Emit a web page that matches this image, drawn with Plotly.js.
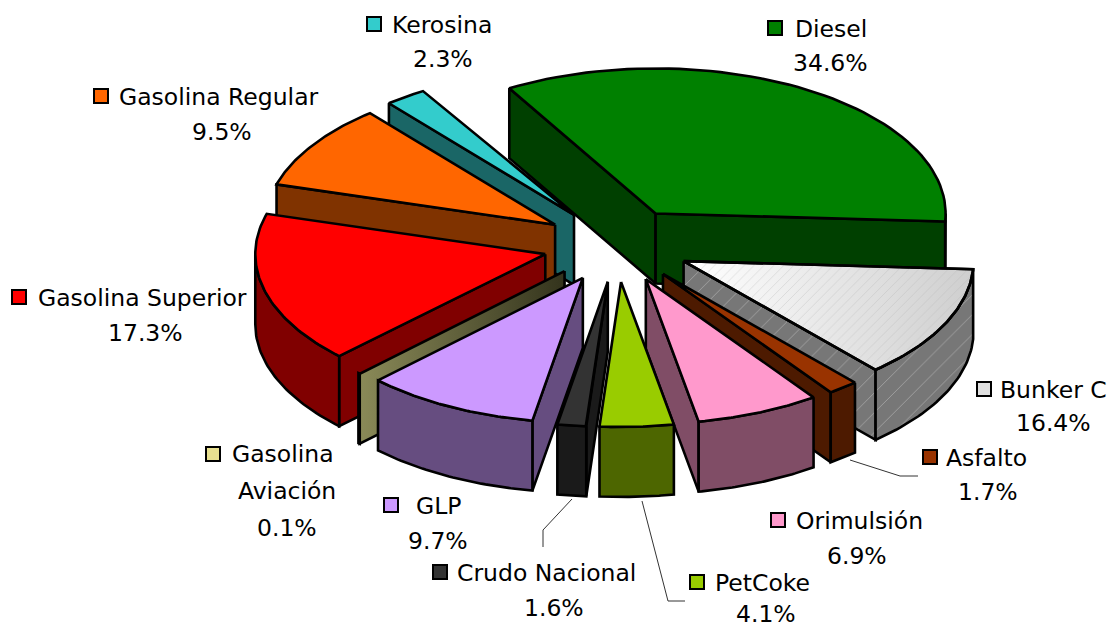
<!DOCTYPE html>
<html>
<head>
<meta charset="utf-8">
<script src="https://cdn.plot.ly/plotly-3.0.1.min.js"></script>
<style>html,body{margin:0;padding:0;background:#fff}#chart{width:1109px;height:628px}</style>
</head>
<body>
<div id="chart"></div>
<script>
// Data, clockwise from the Kerosina/Diesel boundary
const categories = ["Diesel","Bunker C","Asfalto","Orimulsión","PetCoke","Crudo Nacional","GLP","Gasolina Aviación","Gasolina Superior","Gasolina Regular","Kerosina"];
const printedLabels = ["34.6%","16.4%","1.7%","6.9%","4.1%","1.6%","9.7%","0.1%","17.3%","9.5%","2.3%"];
// Slice sizes. Printed labels add up to 104.2%; Bunker C is visibly drawn smaller than its label.
const drawnShares = [34.3,12.6,1.7,6.9,4.1,1.6,9.7,0.1,16.9,9.5,2.3];
const topColors  = ["#008000","#e8e8e8","#993300","#FF99CC","#99CC00","#333333","#CC99FF","#FFFF99","#FF0000","#FF6600","#33CCCC"];
const wallColors = ["#004000","#777777","#4d1a00","#804d66","#4d6600","#1a1a1a","#664d80","#808055","#800000","#803300","#1a6666"];
const keyColors  = ["#008000","#e0e0e0","#993300","#FF99CC","#99CC00","#333333","#CC99FF","#e8e090","#FF0000","#FF6600","#33CCCC"];
const paintOrder = ["Kerosina","Gasolina Regular","Gasolina Superior","Gasolina Aviación","GLP","Crudo Nacional","Diesel","Bunker C","Asfalto","Orimulsión","PetCoke"];

// Projection of the tilted pie onto page-sized axes
const CX=617, CY=245, R=290, TILT=0.5, EXPLODE=74, DEPTH=70, START=-30.3;
const rad=d=>d*Math.PI/180;
const traces=[];
let a=START, wedges={};
categories.forEach((c,i)=>{const a0=a,a1=a+drawnShares[i]*3.6;a=a1;wedges[c]={i,a0,a1};});

function poly(pts,fill,extra){
  traces.push(Object.assign({type:"scatter",mode:"lines",x:pts.map(p=>p[0]),y:pts.map(p=>p[1]),
    fill:"toself",fillcolor:fill,line:{color:"#000",width:2.6,shape:"linear"},
    hoverinfo:"skip",showlegend:false},extra||{}));
}
const hatch={fillpattern:{shape:"/",bgcolor:"#777777",fgcolor:"#b8b8b8",fgopacity:0.7,size:14,solidity:0.06}};

paintOrder.forEach(name=>{
  const {i,a0,a1}=wedges[name];
  const mid=rad((a0+a1)/2);
  const ax=CX+EXPLODE*Math.sin(mid), ay=CY-EXPLODE*TILT*Math.cos(mid);
  const pt=(d,dz)=>[ax+R*Math.sin(rad(d)), ay-R*TILT*Math.cos(rad(d))+(dz||0)];
  const isB=name==="Bunker C";
  const wallExtra=isB?hatch:{};
  // radial cut faces
  if(Math.sin(rad(a0))<0){
    const e=pt(a0);
    const extra=name==="Gasolina Aviación"?
      {fillgradient:{type:"horizontal",start:360,stop:565,colorscale:[[0,"#8a8a58"],[1,"#33331c"]]}}:wallExtra;
    poly([[ax,ay],e,[e[0],e[1]+DEPTH],[ax,ay+DEPTH],[ax,ay]],wallColors[i],extra);
  }
  if(Math.sin(rad(a1))>0){
    const e=pt(a1);
    poly([[ax,ay],e,[e[0],e[1]+DEPTH],[ax,ay+DEPTH],[ax,ay]],wallColors[i],wallExtra);
  }
  // outer rim wall, only the part of the rim facing the viewer
  const lo=Math.max(a0,90), hi=Math.min(a1,270);
  if(hi>lo){
    const up=[],dn=[];
    for(let k=0;k<=40;k++){const d=lo+(hi-lo)*k/40;up.push(pt(d));dn.unshift(pt(d,DEPTH));}
    poly(up.concat(dn,[up[0]]),wallColors[i],wallExtra);
  }
  // top face
  if(name!=="Gasolina Aviación"){
    const top=[[ax,ay]];
    for(let k=0;k<=60;k++){top.push(pt(a0+(a1-a0)*k/60));}
    top.push([ax,ay]);
    if(isB){
      poly(top,topColors[i],{fillgradient:{type:"horizontal",start:690,stop:970,colorscale:[[0,"#ffffff"],[1,"#cfcfcf"]]}});
      poly(top,"rgba(0,0,0,0)",{fillpattern:{shape:"/",bgcolor:"rgba(0,0,0,0)",fgcolor:"#b0b0b0",fgopacity:0.45,size:7,solidity:0.1}});
    } else poly(top,topColors[i]);
  }
});

// Leader lines
const leaderLines=[
  {x:[850,900,918],y:[460,476,476]},
  {x:[572,543,543],y:[499,530,547]},
  {x:[642,668,685],y:[501,601,601]}
];
leaderLines.forEach(l=>traces.push({type:"scatter",mode:"lines",x:l.x,y:l.y,line:{color:"#333",width:1},hoverinfo:"skip",showlegend:false}));

// Label placement: [key x, key y, name x, pct x, pct y]
const labelPlaces={
  "Diesel":[775,28,793,830,63],
  "Bunker C":[984,389,998,1053,423],
  "Asfalto":[930,457,944,988,492],
  "Orimulsión":[778,520,794,857,556],
  "PetCoke":[697,582,713,766,614],
  "Crudo Nacional":[440,572,455,554,608],
  "GLP":[391,505,414,438,541],
  "Gasolina Aviación":[213,454,230,287,528],
  "Gasolina Superior":[19,297,36,145,333],
  "Gasolina Regular":[101,96,117,222,132],
  "Kerosina":[374,24,390,443,59]
};
const FONT={family:"'DejaVu Sans', sans-serif",size:23.5,color:"#000"};
const annotations=[];
const note=(text,x,y,xanchor)=>annotations.push({text,x,y,xref:"x",yref:"y",xanchor,yanchor:"middle",showarrow:false,font:FONT});
categories.forEach((c,i)=>{
  const p=labelPlaces[c];
  if(c==="Gasolina Aviación"){
    note("Gasolina",p[2],p[1],"left");
    note("Aviación",p[3],491,"center");
  } else note(c,p[2],p[1]+1,"left");
  note(printedLabels[i],p[3],p[4],"center");
});
traces.push({type:"scatter",mode:"markers",x:categories.map(c=>labelPlaces[c][0]),y:categories.map(c=>labelPlaces[c][1]),
  marker:{symbol:"square",size:14,color:keyColors,line:{color:"#000",width:2}},hoverinfo:"skip",showlegend:false});

Plotly.newPlot("chart",traces,{
  width:1109,height:628,margin:{l:0,r:0,t:0,b:0},paper_bgcolor:"#fff",plot_bgcolor:"#fff",showlegend:false,
  hovermode:false,annotations,
  xaxis:{range:[0,1109],visible:false,fixedrange:true},
  yaxis:{range:[628,0],visible:false,fixedrange:true}
},{staticPlot:true,displayModeBar:false});
</script>
</body>
</html>
